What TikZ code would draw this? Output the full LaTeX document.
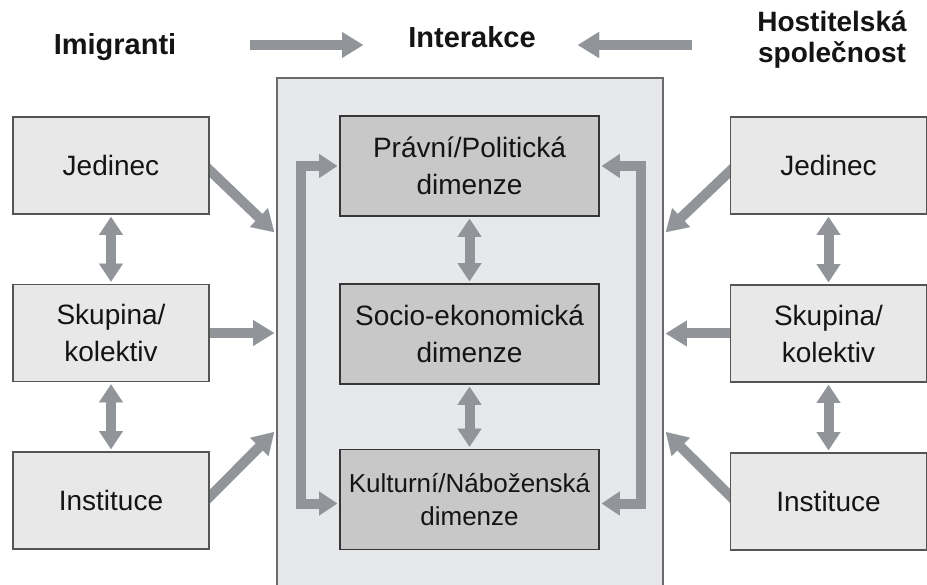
\documentclass[tikz,border=0pt]{standalone}
\usepackage{fontspec}
\setmainfont{Liberation Sans}
\usetikzlibrary{arrows.meta,calc}
\pgfdeclarelayer{bg}
\pgfsetlayers{bg,main}
\definecolor{arr}{HTML}{919498}
\definecolor{sfill}{HTML}{E8E8E8}
\definecolor{sline}{HTML}{555555}
\definecolor{bfill}{HTML}{E6E8EB}
\definecolor{bline}{HTML}{6A6A6A}
\definecolor{dfill}{HTML}{C8C8C8}
\definecolor{dline}{HTML}{363636}
\definecolor{txt}{HTML}{141414}
\tikzset{
  sbox/.style={draw=sline, fill=sfill, line width=1.8pt, minimum width=196pt, minimum height=97pt,
    inner sep=0pt, align=center, text=txt, font=\fontsize{28}{37}\selectfont},
  dbox/.style={draw=dline, fill=dfill, line width=1.6pt, minimum width=259pt, minimum height=100pt,
    inner sep=0pt, align=center, text=txt, font=\fontsize{28}{37}\selectfont},
  bigbox/.style={draw=bline, fill=bfill, line width=1.8pt, inner sep=0pt},
  hdr/.style={inner sep=0pt, text=txt, font=\bfseries\fontsize{29}{34}\selectfont},
  fat/.style={draw=arr, line width=10pt, line join=miter},
  fatarrow/.style={fat, -{Triangle[width=26pt,length=21pt,line width=0.01pt]}},
  fatboth/.style={fat, {Triangle[width=24pt,length=18pt,line width=0.01pt]}-{Triangle[width=24pt,length=18pt,line width=0.01pt]}}
}
\begin{document}
\begin{tikzpicture}[x=1pt,y=-1pt]
\useasboundingbox (0,0) rectangle (927,585);
\clip (0,0) rectangle (927,585);

% central frame (background layer)
\begin{pgfonlayer}{bg}
\fill[white] (0,0) rectangle (927,585);
\node[bigbox, minimum width=386pt, minimum height=522pt] (big) at (470,339) {};
\end{pgfonlayer}

% headers
\node[hdr, anchor=base] (imig) at (115,55) {Imigranti};
\node[hdr, anchor=base] (inter) at (472,48) {Interakce};
\node[hdr, anchor=base, font=\bfseries\fontsize{28}{34}\selectfont] (host1) at (832,32) {Hostitelská};
\node[hdr, anchor=base, font=\bfseries\fontsize{28}{34}\selectfont] (host2) at (832,63) {společnost};
\coordinate (t1s) at (250,45);
\coordinate (t1e) at (363,45);
\coordinate (t2s) at (692,45);
\coordinate (t2e) at (578,45);
\draw[fatarrow] (t1s) -- (t1e);
\draw[fatarrow] (t2s) -- (t2e);

% side boxes
\node[sbox] (lj) at (111,165.5) {Jedinec};
\node[sbox] (ls) at (111,333) {Skupina/\\kolektiv};
\node[sbox] (li) at (111,500.5) {Instituce};
\node[sbox] (rj) at (828.5,165.5) {Jedinec};
\node[sbox] (rs) at (828.5,333.5) {Skupina/\\kolektiv};
\node[sbox] (ri) at (828.5,501.5) {Instituce};

% dimension boxes
\node[dbox] (pol) at (469.5,166) {Právní/Politická\\dimenze};
\node[dbox] (soc) at (469.5,334) {Socio-ekonomická\\dimenze};
\node[dbox, font=\fontsize{26}{33}\selectfont] (kul) at (469.5,499.5) {Kulturní/Náboženská\\dimenze};

% arrows into the frame (behind the side boxes, above the frame)
\begin{pgfonlayer}{bg}
\coordinate (e1) at ($(big.north west)+(-2,155)$);
\coordinate (e3) at ($(big.north west)+(-2,355)$);
\coordinate (e4) at ($(big.north east)+(2,155)$);
\coordinate (e6) at ($(big.north east)+(2,355)$);
\draw[fatarrow] ($([yshift=-5pt]lj.east)!-12pt!(e1)$) -- (e1);
\draw[fatarrow] ([xshift=-5pt]ls.east) -- ($(ls.east -| big.west)+(-2,0)$);
\draw[fatarrow] ($([yshift=4pt]li.east)!-12pt!(e3)$) -- (e3);
\draw[fatarrow] ($([yshift=-6pt]rj.west)!-12pt!(e4)$) -- (e4);
\draw[fatarrow] ([xshift=5pt]rs.west) -- ($(rs.west -| big.east)+(2,0)$);
\draw[fatarrow] ($([yshift=6pt]ri.west)!-12pt!(e6)$) -- (e6);
\end{pgfonlayer}

% vertical double arrows
\draw[fatboth] ([yshift=-2pt]lj.south) -- ([yshift=2pt]ls.north);
\draw[fatboth] ([yshift=-2pt]ls.south) -- ([yshift=2pt]li.north);
\draw[fatboth] ([yshift=-2pt]rj.south) -- ([yshift=2pt]rs.north);
\draw[fatboth] ([yshift=-2pt]rs.south) -- ([yshift=2pt]ri.north);
\draw[fatboth] ([yshift=-2pt]pol.south) -- ([yshift=2pt]soc.north);
\draw[fatboth] ([yshift=-2pt]soc.south) -- ([yshift=2pt]kul.north);

% brackets
\draw[fatboth] ([xshift=-2pt]pol.west) -| ($(kul.west)+(-38,4)$) -- ([xshift=-2pt,yshift=-4pt]kul.west);
\draw[fatboth] ([xshift=2pt]pol.east) -| ($(kul.east)+(41,4)$) -- ([xshift=2pt,yshift=-4pt]kul.east);
\end{tikzpicture}
\end{document}
